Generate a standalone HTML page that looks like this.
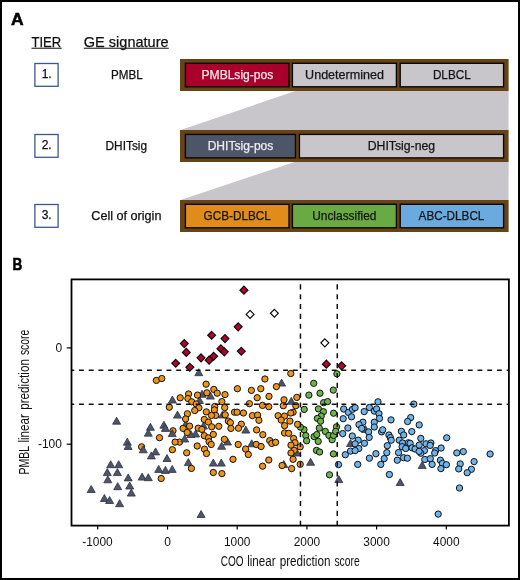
<!DOCTYPE html>
<html><head><meta charset="utf-8"><title>Figure</title>
<style>
html,body{margin:0;padding:0;background:#fff;width:520px;height:580px;overflow:hidden;}
svg{display:block;will-change:transform;}
text{font-family:"Liberation Sans",sans-serif;}
</style></head><body>
<svg width="520" height="580" viewBox="0 0 520 580">
<rect x="1" y="1" width="518" height="578" fill="#fff" stroke="#000" stroke-width="2"/>
<!-- Panel A -->
<text x="11.0" y="25.4" font-size="17.4" font-weight="bold" stroke="#000" stroke-width="0.6" textLength="12.6" lengthAdjust="spacingAndGlyphs">A</text>
<text x="31.5" y="46.9" font-size="14.8" stroke="#111" stroke-width="0.25" textLength="29.7" lengthAdjust="spacingAndGlyphs" fill="#111">TIER</text>
<rect x="31.5" y="47.7" width="30.2" height="1.1" fill="#222"/>
<text x="83.8" y="46.9" font-size="14.8" stroke="#111" stroke-width="0.25" textLength="84.8" lengthAdjust="spacingAndGlyphs" fill="#111">GE signature</text>
<rect x="83.8" y="47.7" width="85" height="1.1" fill="#222"/>

<g fill="none" stroke="#3e5792" stroke-width="1.3">
<rect x="34.9" y="63.5" width="23.2" height="22.8"/>
<rect x="34.9" y="134.5" width="23.2" height="22.8"/>
<rect x="34.9" y="204.5" width="23.2" height="22.8"/>
</g>
<g font-size="12" fill="#111" stroke="#111" stroke-width="0.25" text-anchor="middle">
<text x="46.7" y="78.4">1.</text>
<text x="46.7" y="149.4">2.</text>
<text x="46.7" y="219.4">3.</text>
<text x="126.8" y="78.5" textLength="31.7" lengthAdjust="spacingAndGlyphs">PMBL</text>
<text x="126.3" y="149.9" textLength="41.5" lengthAdjust="spacingAndGlyphs">DHITsig</text>
<text x="126.4" y="219.5" textLength="70.1" lengthAdjust="spacingAndGlyphs">Cell of origin</text>
</g>

<!-- trapezoids -->
<polygon points="295.4,91 508.6,91 508.6,130 180.6,130" fill="#c8c6cb"/>
<polygon points="294.6,162 508.6,162 508.6,200 180.6,200" fill="#c8c6cb"/>

<!-- rows -->
<g stroke="#0a0704" stroke-width="1.4">
<rect x="180" y="59" width="328.6" height="32" fill="#674417" stroke="none"/>
<rect x="185.4" y="63.3" width="103.6" height="23.5" fill="#a8002a"/>
<rect x="292.4" y="63.3" width="104" height="23.5" fill="#c8c6cb"/>
<rect x="400.2" y="63.3" width="103.4" height="23.5" fill="#c8c6cb"/>

<rect x="180" y="130" width="328.6" height="32" fill="#674417" stroke="none"/>
<rect x="185.4" y="134.4" width="110.1" height="23.5" fill="#4d5569"/>
<rect x="299.4" y="134.4" width="204.2" height="23.5" fill="#c8c6cb"/>

<rect x="180" y="200" width="328.6" height="32" fill="#674417" stroke="none"/>
<rect x="185.4" y="204.3" width="103.6" height="23.5" fill="#df8c1a"/>
<rect x="292.4" y="204.3" width="104" height="23.5" fill="#6aaa43"/>
<rect x="400.2" y="204.3" width="103.4" height="23.5" fill="#6aaadf"/>
</g>
<g font-size="12" text-anchor="middle" stroke-width="0.25">
<text x="237.4" y="78.6" fill="#f6e6ec" stroke="#f6e6ec" textLength="71.7" lengthAdjust="spacingAndGlyphs">PMBLsig-pos</text>
<text x="344.5" y="78.6" fill="#151515" stroke="#151515" textLength="78.8" lengthAdjust="spacingAndGlyphs">Undetermined</text>
<text x="451.8" y="78.6" fill="#151515" stroke="#151515" textLength="37.8" lengthAdjust="spacingAndGlyphs">DLBCL</text>
<text x="240.5" y="150.2" fill="#ececf2" stroke="#ececf2" textLength="65.7" lengthAdjust="spacingAndGlyphs">DHITsig-pos</text>
<text x="401.4" y="150.2" fill="#151515" stroke="#151515" textLength="67.4" lengthAdjust="spacingAndGlyphs">DHITsig-neg</text>
<text x="237.2" y="219.6" fill="#151515" stroke="#151515" textLength="67.2" lengthAdjust="spacingAndGlyphs">GCB-DLBCL</text>
<text x="344.3" y="219.6" fill="#151515" stroke="#151515" textLength="64.2" lengthAdjust="spacingAndGlyphs">Unclassified</text>
<text x="451.5" y="219.6" fill="#151515" stroke="#151515" textLength="65.8" lengthAdjust="spacingAndGlyphs">ABC-DLBCL</text>
</g>

<!-- Panel B -->
<text x="12.6" y="270.0" font-size="17.4" font-weight="bold" stroke="#000" stroke-width="0.6" textLength="9.8" lengthAdjust="spacingAndGlyphs">B</text>

<!-- axes -->
<g stroke="#000" stroke-width="1.2">
<line x1="97.7" y1="525.6" x2="97.7" y2="529.6"/>
<line x1="167.5" y1="525.6" x2="167.5" y2="529.6"/>
<line x1="237.2" y1="525.6" x2="237.2" y2="529.6"/>
<line x1="306.9" y1="525.6" x2="306.9" y2="529.6"/>
<line x1="376.6" y1="525.6" x2="376.6" y2="529.6"/>
<line x1="446.3" y1="525.6" x2="446.3" y2="529.6"/>
<line x1="66.7" y1="347.9" x2="71.5" y2="347.9"/>
<line x1="66.7" y1="444.2" x2="71.5" y2="444.2"/>
</g>
<g font-size="12" fill="#111" text-anchor="middle">
<text x="97.5" y="545.6" textLength="30.4" lengthAdjust="spacingAndGlyphs">-1000</text>
<text x="167.5" y="545.6">0</text>
<text x="237.2" y="545.6" textLength="26.5" lengthAdjust="spacingAndGlyphs">1000</text>
<text x="306.9" y="545.6" textLength="26.5" lengthAdjust="spacingAndGlyphs">2000</text>
<text x="376.6" y="545.6" textLength="26.5" lengthAdjust="spacingAndGlyphs">3000</text>
<text x="446.3" y="545.6" textLength="26.5" lengthAdjust="spacingAndGlyphs">4000</text>
</g>
<g font-size="12" fill="#111" text-anchor="end">
<text x="62.1" y="352">0</text>
<text x="61.9" y="448.4" textLength="24" lengthAdjust="spacingAndGlyphs">-100</text>
</g>
<g font-size="14.8" fill="#111">
<text transform="translate(220.8,565.8) scale(0.676,1)">COO</text>
<text transform="translate(247.2,565.8) scale(0.785,1)">linear</text>
<text transform="translate(279.7,565.8) scale(0.792,1)">prediction</text>
<text transform="translate(334.4,565.8) scale(0.702,1)">score</text>
</g>
<g transform="translate(29.2,474.6) rotate(-90)" font-size="14.8" fill="#111">
<text transform="translate(0,0) scale(0.71,1)">PMBL</text>
<text transform="translate(32.0,0) scale(0.785,1)">linear</text>
<text transform="translate(64.8,0) scale(0.792,1)">prediction</text>
<text transform="translate(119.5,0) scale(0.702,1)">score</text>
</g>

<!-- points -->
<g id="pts">
<g stroke="#111" stroke-width="1.0" fill="#ef9419">
<circle cx="173.0" cy="430.8" r="3.15"/>
<circle cx="179.5" cy="442.1" r="3.15"/>
<circle cx="141.6" cy="446.8" r="3.15"/>
</g>
<g fill="#4e5569" stroke="#2c3244" stroke-width="0.8" stroke-linejoin="round">
<path d="M116.6 417.2L120.6 424.2H112.6Z"/>
<path d="M198.8 368.7L202.8 375.7H194.8Z"/>
<path d="M210.4 392.1L214.4 399.1H206.4Z"/>
<path d="M202.0 390.3L206.0 397.3H198.0Z"/>
<path d="M172.4 396.0L176.4 403.0H168.4Z"/>
<path d="M199.5 396.5L203.5 403.5H195.5Z"/>
<path d="M177.5 411.1L181.5 418.1H173.5Z"/>
<path d="M222.5 411.0L226.5 418.0H218.5Z"/>
<path d="M281.6 379.1L285.6 386.1H277.6Z"/>
<path d="M291.3 397.3L295.3 404.3H287.3Z"/>
<path d="M365.5 425.5L369.5 432.5H361.5Z"/>
<path d="M350.5 439.5L354.5 446.5H346.5Z"/>
<path d="M338.8 475.6L342.8 482.6H334.8Z"/>
<path d="M310.6 458.3L314.6 465.3H306.6Z"/>
<path d="M297.0 449.0L301.0 456.0H293.0Z"/>
<path d="M245.8 426.1L249.8 433.1H241.8Z"/>
<path d="M251.7 439.8L255.7 446.8H247.7Z"/>
<path d="M283.8 460.5L287.8 467.5H279.8Z"/>
<path d="M195.6 430.0L199.6 437.0H191.6Z"/>
<path d="M203.5 422.0L207.5 429.0H199.5Z"/>
<path d="M221.6 442.3L225.6 449.3H217.6Z"/>
<path d="M227.5 438.0L231.5 445.0H223.5Z"/>
<path d="M213.3 459.1L217.3 466.1H209.3Z"/>
<path d="M221.3 459.1L225.3 466.1H217.3Z"/>
<path d="M150.4 423.3L154.4 430.3H146.4Z"/>
<path d="M148.3 429.2L152.3 436.2H144.3Z"/>
<path d="M163.9 421.2L167.9 428.2H159.9Z"/>
<path d="M165.4 424.4L169.4 431.4H161.4Z"/>
<path d="M172.2 429.6L176.2 436.6H168.2Z"/>
<path d="M184.7 435.0L188.7 442.0H180.7Z"/>
<path d="M143.2 445.8L147.2 452.8H139.2Z"/>
<path d="M155.6 447.9L159.6 454.9H151.6Z"/>
<path d="M151.4 451.9L155.4 458.9H147.4Z"/>
<path d="M167.0 454.5L171.0 461.5H163.0Z"/>
<path d="M188.3 458.6L192.3 465.6H184.3Z"/>
<path d="M158.7 465.4L162.7 472.4H154.7Z"/>
<path d="M165.4 466.4L169.4 473.4H161.4Z"/>
<path d="M172.2 465.4L176.2 472.4H168.2Z"/>
<path d="M142.1 473.1L146.1 480.1H138.1Z"/>
<path d="M148.3 473.7L152.3 480.7H144.3Z"/>
<path d="M127.3 438.2L131.3 445.2H123.3Z"/>
<path d="M128.1 442.5L132.1 449.5H124.1Z"/>
<path d="M110.7 460.7L114.7 467.7H106.7Z"/>
<path d="M118.7 460.7L122.7 467.7H114.7Z"/>
<path d="M107.3 468.6L111.3 475.6H103.3Z"/>
<path d="M117.4 468.6L121.4 475.6H113.4Z"/>
<path d="M128.2 473.9L132.2 480.9H124.2Z"/>
<path d="M107.8 475.8L111.8 482.8H103.8Z"/>
<path d="M117.7 482.7L121.7 489.7H113.7Z"/>
<path d="M91.2 485.5L95.2 492.5H87.2Z"/>
<path d="M104.4 494.5L108.4 501.5H100.4Z"/>
<path d="M109.6 496.5L113.6 503.5H105.6Z"/>
<path d="M119.6 499.7L123.6 506.7H115.6Z"/>
<path d="M129.7 482.0L133.7 489.0H125.7Z"/>
<path d="M131.3 489.1L135.3 496.1H127.3Z"/>
<path d="M201.1 510.5L205.1 517.5H197.1Z"/>
<path d="M422.2 461.4L426.2 468.4H418.2Z"/>
<path d="M400.2 478.5L404.2 485.5H396.2Z"/>
<path d="M185.8 420.3L189.8 427.3H181.8Z"/>
<path d="M190.8 430.5L194.8 437.5H186.8Z"/>
</g>
<g stroke="#111" stroke-width="1.0">
<g fill="#ef9419">
<circle cx="206.1" cy="384.2" r="3.15"/>
<circle cx="213.8" cy="389.4" r="3.15"/>
<circle cx="217.2" cy="393.2" r="3.15"/>
<circle cx="206.9" cy="392.8" r="3.15"/>
<circle cx="197.5" cy="395.1" r="3.15"/>
<circle cx="188.6" cy="394.0" r="3.15"/>
<circle cx="187.9" cy="398.5" r="3.15"/>
<circle cx="180.2" cy="397.8" r="3.15"/>
<circle cx="191.7" cy="401.8" r="3.15"/>
<circle cx="196.2" cy="404.0" r="3.15"/>
<circle cx="198.9" cy="407.8" r="3.15"/>
<circle cx="194.7" cy="410.5" r="3.15"/>
<circle cx="169.3" cy="407.2" r="3.15"/>
<circle cx="156.4" cy="380.4" r="3.15"/>
<circle cx="161.8" cy="378.5" r="3.15"/>
<circle cx="221.9" cy="401.6" r="3.15"/>
<circle cx="214.7" cy="406.5" r="3.15"/>
<circle cx="214.4" cy="409.9" r="3.15"/>
<circle cx="215.7" cy="415.4" r="3.15"/>
<circle cx="211.5" cy="415.4" r="3.15"/>
<circle cx="206.3" cy="411.9" r="3.15"/>
<circle cx="187.4" cy="413.8" r="3.15"/>
<circle cx="185.6" cy="419.0" r="3.15"/>
<circle cx="204.3" cy="419.5" r="3.15"/>
<circle cx="208.4" cy="422.1" r="3.15"/>
<circle cx="264.9" cy="379.0" r="3.15"/>
<circle cx="237.4" cy="388.7" r="3.15"/>
<circle cx="251.4" cy="390.4" r="3.15"/>
<circle cx="260.8" cy="388.7" r="3.15"/>
<circle cx="225.0" cy="394.6" r="3.15"/>
<circle cx="257.2" cy="397.7" r="3.15"/>
<circle cx="269.0" cy="396.4" r="3.15"/>
<circle cx="224.7" cy="407.6" r="3.15"/>
<circle cx="225.2" cy="414.8" r="3.15"/>
<circle cx="234.5" cy="412.2" r="3.15"/>
<circle cx="237.1" cy="412.2" r="3.15"/>
<circle cx="243.4" cy="413.0" r="3.15"/>
<circle cx="252.4" cy="415.6" r="3.15"/>
<circle cx="257.6" cy="415.1" r="3.15"/>
<circle cx="258.9" cy="420.3" r="3.15"/>
<circle cx="228.3" cy="421.1" r="3.15"/>
<circle cx="230.4" cy="422.6" r="3.15"/>
<circle cx="241.3" cy="424.2" r="3.15"/>
<circle cx="290.8" cy="373.5" r="3.15"/>
<circle cx="276.4" cy="386.6" r="3.15"/>
<circle cx="296.8" cy="397.4" r="3.15"/>
<circle cx="284.0" cy="399.8" r="3.15"/>
<circle cx="283.3" cy="405.7" r="3.15"/>
<circle cx="295.8" cy="405.7" r="3.15"/>
<circle cx="268.8" cy="406.7" r="3.15"/>
<circle cx="293.1" cy="412.2" r="3.15"/>
<circle cx="290.8" cy="413.0" r="3.15"/>
<circle cx="278.1" cy="415.7" r="3.15"/>
<circle cx="284.5" cy="416.1" r="3.15"/>
<circle cx="281.2" cy="420.0" r="3.15"/>
<circle cx="289.9" cy="421.1" r="3.15"/>
<circle cx="293.6" cy="438.5" r="3.15"/>
<circle cx="295.0" cy="442.7" r="3.15"/>
<circle cx="291.0" cy="445.2" r="3.15"/>
<circle cx="300.2" cy="446.8" r="3.15"/>
<circle cx="294.2" cy="450.4" r="3.15"/>
<circle cx="291.0" cy="453.0" r="3.15"/>
<circle cx="293.1" cy="459.3" r="3.15"/>
<circle cx="300.2" cy="464.3" r="3.15"/>
<circle cx="291.6" cy="468.6" r="3.15"/>
<circle cx="284.6" cy="425.7" r="3.15"/>
<circle cx="256.6" cy="429.9" r="3.15"/>
<circle cx="262.8" cy="434.7" r="3.15"/>
<circle cx="269.7" cy="440.6" r="3.15"/>
<circle cx="271.8" cy="443.4" r="3.15"/>
<circle cx="275.6" cy="442.3" r="3.15"/>
<circle cx="284.6" cy="433.0" r="3.15"/>
<circle cx="288.6" cy="433.3" r="3.15"/>
<circle cx="256.2" cy="444.4" r="3.15"/>
<circle cx="261.1" cy="446.5" r="3.15"/>
<circle cx="245.6" cy="449.0" r="3.15"/>
<circle cx="248.3" cy="454.5" r="3.15"/>
<circle cx="268.8" cy="460.0" r="3.15"/>
<circle cx="262.6" cy="466.2" r="3.15"/>
<circle cx="282.1" cy="465.5" r="3.15"/>
<circle cx="211.7" cy="426.8" r="3.15"/>
<circle cx="218.8" cy="426.3" r="3.15"/>
<circle cx="198.2" cy="428.2" r="3.15"/>
<circle cx="201.9" cy="429.4" r="3.15"/>
<circle cx="204.3" cy="435.7" r="3.15"/>
<circle cx="208.4" cy="437.9" r="3.15"/>
<circle cx="213.3" cy="434.4" r="3.15"/>
<circle cx="209.1" cy="441.7" r="3.15"/>
<circle cx="211.2" cy="444.5" r="3.15"/>
<circle cx="197.2" cy="446.0" r="3.15"/>
<circle cx="204.5" cy="449.2" r="3.15"/>
<circle cx="206.5" cy="453.5" r="3.15"/>
<circle cx="224.4" cy="439.3" r="3.15"/>
<circle cx="230.9" cy="428.4" r="3.15"/>
<circle cx="238.5" cy="428.2" r="3.15"/>
<circle cx="238.2" cy="444.5" r="3.15"/>
<circle cx="233.0" cy="459.3" r="3.15"/>
<circle cx="213.3" cy="472.5" r="3.15"/>
<circle cx="221.9" cy="473.6" r="3.15"/>
<circle cx="191.4" cy="468.4" r="3.15"/>
<circle cx="159.5" cy="437.7" r="3.15"/>
<circle cx="175.1" cy="442.1" r="3.15"/>
<circle cx="189.6" cy="426.1" r="3.15"/>
<circle cx="183.1" cy="428.4" r="3.15"/>
<circle cx="187.2" cy="432.5" r="3.15"/>
<circle cx="172.4" cy="449.7" r="3.15"/>
<circle cx="186.7" cy="452.8" r="3.15"/>
<circle cx="161.2" cy="478.5" r="3.15"/>
<circle cx="249.4" cy="403.7" r="3.15"/>
<circle cx="262.5" cy="405.4" r="3.15"/>
</g>
<g fill="#6bb549">
<circle cx="336.9" cy="373.8" r="3.15"/>
<circle cx="313.7" cy="383.3" r="3.15"/>
<circle cx="333.3" cy="390.1" r="3.15"/>
<circle cx="320.0" cy="393.2" r="3.15"/>
<circle cx="308.9" cy="395.1" r="3.15"/>
<circle cx="323.6" cy="402.7" r="3.15"/>
<circle cx="327.6" cy="401.6" r="3.15"/>
<circle cx="304.2" cy="409.4" r="3.15"/>
<circle cx="318.4" cy="408.9" r="3.15"/>
<circle cx="323.4" cy="411.7" r="3.15"/>
<circle cx="321.2" cy="416.0" r="3.15"/>
<circle cx="317.4" cy="418.4" r="3.15"/>
<circle cx="320.6" cy="421.2" r="3.15"/>
<circle cx="333.6" cy="413.2" r="3.15"/>
<circle cx="336.5" cy="426.8" r="3.15"/>
<circle cx="304.0" cy="429.7" r="3.15"/>
<circle cx="300.4" cy="427.1" r="3.15"/>
<circle cx="305.8" cy="435.6" r="3.15"/>
<circle cx="306.6" cy="440.8" r="3.15"/>
<circle cx="314.1" cy="436.6" r="3.15"/>
<circle cx="316.8" cy="434.6" r="3.15"/>
<circle cx="318.2" cy="441.4" r="3.15"/>
<circle cx="319.3" cy="428.1" r="3.15"/>
<circle cx="325.3" cy="431.4" r="3.15"/>
<circle cx="328.9" cy="435.4" r="3.15"/>
<circle cx="332.1" cy="439.7" r="3.15"/>
<circle cx="333.6" cy="435.4" r="3.15"/>
<circle cx="335.7" cy="431.4" r="3.15"/>
<circle cx="316.5" cy="450.4" r="3.15"/>
<circle cx="319.6" cy="452.0" r="3.15"/>
<circle cx="333.4" cy="453.9" r="3.15"/>
<circle cx="329.5" cy="474.8" r="3.15"/>
</g>
<g fill="#6db3ec">
<circle cx="378.0" cy="401.8" r="3.15"/>
<circle cx="343.7" cy="409.0" r="3.15"/>
<circle cx="348.4" cy="412.4" r="3.15"/>
<circle cx="352.5" cy="409.3" r="3.15"/>
<circle cx="355.1" cy="407.7" r="3.15"/>
<circle cx="351.5" cy="416.8" r="3.15"/>
<circle cx="343.2" cy="418.7" r="3.15"/>
<circle cx="364.2" cy="411.6" r="3.15"/>
<circle cx="369.4" cy="407.5" r="3.15"/>
<circle cx="374.3" cy="411.1" r="3.15"/>
<circle cx="376.6" cy="409.0" r="3.15"/>
<circle cx="379.0" cy="413.7" r="3.15"/>
<circle cx="379.5" cy="418.4" r="3.15"/>
<circle cx="374.3" cy="422.2" r="3.15"/>
<circle cx="374.3" cy="427.0" r="3.15"/>
<circle cx="362.9" cy="422.2" r="3.15"/>
<circle cx="359.0" cy="424.6" r="3.15"/>
<circle cx="361.7" cy="428.4" r="3.15"/>
<circle cx="368.6" cy="431.9" r="3.15"/>
<circle cx="369.2" cy="437.4" r="3.15"/>
<circle cx="347.9" cy="428.0" r="3.15"/>
<circle cx="342.7" cy="433.6" r="3.15"/>
<circle cx="352.3" cy="436.0" r="3.15"/>
<circle cx="358.2" cy="440.2" r="3.15"/>
<circle cx="364.5" cy="443.3" r="3.15"/>
<circle cx="355.1" cy="443.8" r="3.15"/>
<circle cx="358.8" cy="448.5" r="3.15"/>
<circle cx="350.5" cy="451.1" r="3.15"/>
<circle cx="345.3" cy="454.7" r="3.15"/>
<circle cx="375.9" cy="453.7" r="3.15"/>
<circle cx="386.8" cy="452.6" r="3.15"/>
<circle cx="387.3" cy="445.7" r="3.15"/>
<circle cx="381.6" cy="431.9" r="3.15"/>
<circle cx="382.7" cy="429.8" r="3.15"/>
<circle cx="388.9" cy="435.0" r="3.15"/>
<circle cx="390.4" cy="437.6" r="3.15"/>
<circle cx="391.0" cy="419.9" r="3.15"/>
<circle cx="413.8" cy="404.1" r="3.15"/>
<circle cx="410.7" cy="417.6" r="3.15"/>
<circle cx="407.6" cy="421.5" r="3.15"/>
<circle cx="419.2" cy="424.9" r="3.15"/>
<circle cx="401.4" cy="431.3" r="3.15"/>
<circle cx="403.7" cy="435.0" r="3.15"/>
<circle cx="411.8" cy="431.6" r="3.15"/>
<circle cx="391.2" cy="440.2" r="3.15"/>
<circle cx="399.3" cy="440.2" r="3.15"/>
<circle cx="402.6" cy="443.0" r="3.15"/>
<circle cx="402.1" cy="446.7" r="3.15"/>
<circle cx="405.7" cy="448.5" r="3.15"/>
<circle cx="408.3" cy="442.8" r="3.15"/>
<circle cx="410.1" cy="443.3" r="3.15"/>
<circle cx="412.0" cy="447.8" r="3.15"/>
<circle cx="415.1" cy="449.0" r="3.15"/>
<circle cx="420.8" cy="438.4" r="3.15"/>
<circle cx="419.2" cy="445.1" r="3.15"/>
<circle cx="426.0" cy="443.8" r="3.15"/>
<circle cx="430.9" cy="443.0" r="3.15"/>
<circle cx="430.1" cy="445.4" r="3.15"/>
<circle cx="424.4" cy="450.6" r="3.15"/>
<circle cx="420.8" cy="453.2" r="3.15"/>
<circle cx="435.6" cy="450.6" r="3.15"/>
<circle cx="398.5" cy="452.6" r="3.15"/>
<circle cx="446.7" cy="437.8" r="3.15"/>
<circle cx="441.1" cy="448.0" r="3.15"/>
<circle cx="456.8" cy="452.9" r="3.15"/>
<circle cx="463.3" cy="451.6" r="3.15"/>
<circle cx="490.1" cy="454.0" r="3.15"/>
<circle cx="355.1" cy="450.6" r="3.15"/>
<circle cx="338.5" cy="464.6" r="3.15"/>
<circle cx="357.7" cy="464.4" r="3.15"/>
<circle cx="369.4" cy="458.2" r="3.15"/>
<circle cx="384.2" cy="458.6" r="3.15"/>
<circle cx="380.8" cy="464.4" r="3.15"/>
<circle cx="389.4" cy="474.5" r="3.15"/>
<circle cx="419.1" cy="451.4" r="3.15"/>
<circle cx="397.3" cy="460.2" r="3.15"/>
<circle cx="403.5" cy="457.7" r="3.15"/>
<circle cx="407.4" cy="458.2" r="3.15"/>
<circle cx="424.8" cy="459.5" r="3.15"/>
<circle cx="430.3" cy="458.7" r="3.15"/>
<circle cx="432.1" cy="464.4" r="3.15"/>
<circle cx="434.7" cy="453.0" r="3.15"/>
<circle cx="440.4" cy="460.2" r="3.15"/>
<circle cx="442.4" cy="463.4" r="3.15"/>
<circle cx="440.9" cy="468.6" r="3.15"/>
<circle cx="446.4" cy="464.7" r="3.15"/>
<circle cx="460.2" cy="463.9" r="3.15"/>
<circle cx="458.7" cy="468.9" r="3.15"/>
<circle cx="474.1" cy="461.6" r="3.15"/>
<circle cx="471.4" cy="469.3" r="3.15"/>
<circle cx="467.2" cy="472.7" r="3.15"/>
<circle cx="459.5" cy="488.0" r="3.15"/>
<circle cx="438.2" cy="514.1" r="3.15"/>
</g>
</g>
<g stroke="#111" stroke-width="1.0" fill="#ef9419">
<circle cx="297.6" cy="424.3" r="3.15"/>
</g>
<g stroke="#0a0a0a" stroke-width="1.2" stroke-linejoin="miter">
<path fill="#b5002d" d="M243.9 286.2L247.9 290.2L243.9 294.1L240.0 290.2Z"/>
<path fill="#b5002d" d="M238.2 322.9L242.1 326.8L238.2 330.8L234.2 326.8Z"/>
<path fill="#b5002d" d="M211.6 331.4L215.5 335.3L211.6 339.2L207.7 335.3Z"/>
<path fill="#b5002d" d="M225.0 334.7L228.9 338.6L225.0 342.6L221.1 338.6Z"/>
<path fill="#b5002d" d="M184.3 339.7L188.2 343.6L184.3 347.6L180.4 343.6Z"/>
<path fill="#b5002d" d="M186.3 348.4L190.2 352.4L186.3 356.3L182.4 352.4Z"/>
<path fill="#b5002d" d="M220.9 344.8L224.8 348.7L220.9 352.6L217.0 348.7Z"/>
<path fill="#b5002d" d="M224.3 347.9L228.2 351.8L224.3 355.8L220.4 351.8Z"/>
<path fill="#b5002d" d="M241.3 347.4L245.2 351.3L241.3 355.2L237.4 351.3Z"/>
<path fill="#b5002d" d="M201.0 353.9L204.9 357.8L201.0 361.8L197.1 357.8Z"/>
<path fill="#b5002d" d="M213.7 352.4L217.6 356.3L213.7 360.2L209.8 356.3Z"/>
<path fill="#b5002d" d="M209.1 356.2L213.0 360.2L209.1 364.1L205.2 360.2Z"/>
<path fill="#b5002d" d="M175.7 359.4L179.6 363.3L175.7 367.2L171.8 363.3Z"/>
<path fill="#b5002d" d="M189.8 363.4L193.8 367.3L189.8 371.2L185.9 367.3Z"/>
<path fill="#b5002d" d="M326.4 360.2L330.3 364.2L326.4 368.1L322.4 364.2Z"/>
<path fill="#b5002d" d="M341.6 361.9L345.6 365.8L341.6 369.8L337.7 365.8Z"/>
<path fill="#fff" d="M250.1 310.4L254.0 314.4L250.1 318.3L246.2 314.4Z"/>
<path fill="#fff" d="M274.4 309.4L278.3 313.3L274.4 317.2L270.4 313.3Z"/>
<path fill="#fff" d="M324.8 338.9L328.8 342.8L324.8 346.8L320.9 342.8Z"/>
</g>
</g><!-- /pts -->

<!-- dashed lines -->
<g stroke="#111" stroke-width="1.5" fill="none">
<g stroke-dasharray="4.9 4.82" stroke-dashoffset="2.22">
<line x1="71.5" y1="370.15" x2="508.9" y2="370.15"/>
<line x1="71.5" y1="404.15" x2="508.9" y2="404.15"/>
</g>
<g stroke-dasharray="5.1 4.75" stroke-dashoffset="5.85">
<line x1="300.45" y1="280.3" x2="300.45" y2="525.6"/>
<line x1="337.25" y1="280.3" x2="337.25" y2="525.6"/>
</g>
</g>

<rect x="71.5" y="279.4" width="437.4" height="246.2" fill="none" stroke="#000" stroke-width="1.8"/>
</svg>
</body></html>
